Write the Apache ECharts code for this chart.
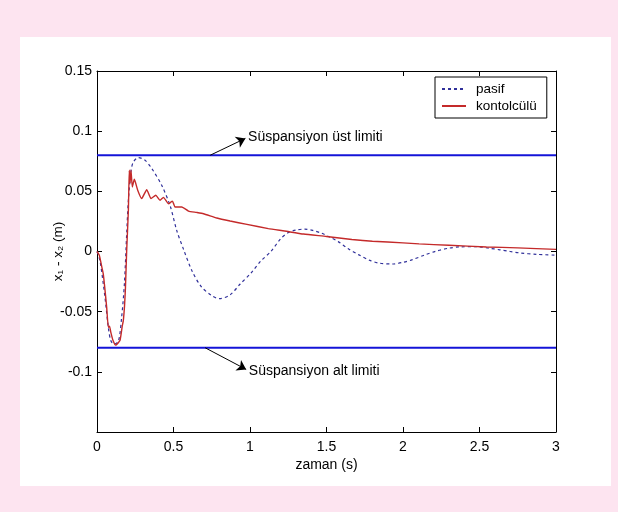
<!DOCTYPE html>
<html>
<head>
<meta charset="utf-8">
<script src="https://cdn.jsdelivr.net/npm/echarts@6/dist/echarts.min.js"></script>
<style>
html,body{margin:0;padding:0;background:#fde4f0;}
#frame{position:absolute;left:20px;top:37px;width:591px;height:449px;background:#ffffff;}
#c{position:absolute;left:0;top:0;width:618px;height:512px;}
</style>
</head>
<body>
<div id="frame"></div>
<div id="c"></div>
<script>
// time (s) and x1 - x2 (m) for the passive suspension
const pasifT = [0,0.02,0.052,0.074,0.09,0.11,0.14,0.161,0.179,0.194,0.205,0.223,0.238,0.27,0.314,0.358,0.423,0.478,0.521,0.565,0.62,0.68,0.75,0.80,0.87,0.936,1.006,1.07,1.138,1.20,1.248,1.30,1.358,1.41,1.468,1.52,1.577,1.64,1.709,1.78,1.841,1.93,2.0,2.061,2.14,2.215,2.30,2.369,2.478,2.56,2.632,2.70,2.764,2.874,3.0];
const pasifV = [0,-0.008,-0.038,-0.063,-0.074,-0.077,-0.0745,-0.0547,-0.027,0.0147,0.0425,0.0675,0.0744,0.078,0.0758,0.069,0.055,0.038,0.0175,0.002,-0.0158,-0.029,-0.0367,-0.0392,-0.036,-0.027,-0.018,-0.008,0.0003,0.0105,0.0156,0.0178,0.0186,0.0175,0.0152,0.012,0.0082,0.0025,-0.0026,-0.0072,-0.0096,-0.0104,-0.009,-0.0068,-0.003,0.0003,0.0028,0.0038,0.0040,0.0028,0.0014,0.0,-0.0012,-0.0024,-0.003];
// time (s) and x1 - x2 (m) for the controlled suspension
const kontT = [0,0.015,0.03,0.041,0.063,0.074,0.082,0.09,0.105,0.122,0.15,0.165,0.172,0.18,0.186,0.194,0.205,0.211,0.216,0.222,0.231,0.244,0.266,0.292,0.325,0.353,0.384,0.412,0.434,0.467,0.493,0.51,0.554,0.598,0.65,0.696,0.783,0.87,0.98,1.12,1.226,1.35,1.5,1.666,1.8,2.0,2.105,2.3,2.545,2.75,3.0];
const kontV = [0,-0.003,-0.012,-0.0186,-0.046,-0.063,-0.062,-0.067,-0.074,-0.0778,-0.074,-0.062,-0.0575,-0.045,-0.03,0.0008,0.034,0.0675,0.057,0.0675,0.0536,0.060,0.051,0.044,0.0514,0.044,0.0467,0.0425,0.045,0.0397,0.0419,0.037,0.037,0.0336,0.0325,0.0314,0.0278,0.0253,0.0225,0.019,0.017,0.0145,0.0125,0.010,0.0085,0.0072,0.0063,0.0052,0.0038,0.003,0.0018];
// suspension limits
const limitT = [0, 3];
const ustLimit = [0.08, 0.08];
const altLimit = [-0.08, -0.08];
// annotation arrows: [tail t, tail v, head t, head v]
const ustArrow = [0.74, 0.08, 0.97, 0.094];
const altArrow = [0.707, -0.08, 0.975, -0.098];
const ustText = 'Süspansiyon üst limiti';
const altText = 'Süspansiyon alt limiti';
// axes
const xTicks = [0, 0.5, 1, 1.5, 2, 2.5, 3];
const yTicks = [-0.15, -0.1, -0.05, 0, 0.05, 0.1, 0.15];
const seriesNames = ['pasif', 'kontolcülü'];

const zip = (a, b) => a.map((v, i) => [v, b[i]]);
const FONT = '"Liberation Sans", Arial, sans-serif';

const chart = echarts.init(document.getElementById('c'), null, {renderer: 'canvas'});

const axisBase = {
  axisLine: {show: true, onZero: false, lineStyle: {color: '#000', width: 1}},
  axisTick: {show: true, inside: true, length: 5, lineStyle: {color: '#000'}},
  splitLine: {show: false}
};

function arrowLine(a, text) {
  return {
    symbol: ['none', 'arrow'],
    symbolSize: 9,
    silent: true,
    lineStyle: {color: '#000', width: 1, type: 'solid'},
    itemStyle: {color: '#000'},
    label: {show: true, position: 'end', distance: 3, formatter: text, color: '#000', fontSize: 14, fontFamily: FONT},
    data: [[{coord: [a[0], a[1]]}, {coord: [a[2], a[3]]}]]
  };
}

chart.setOption({
  backgroundColor: 'transparent',
  animation: false,
  grid: {left: 97, right: 62, top: 71, bottom: 80},
  legend: {
    data: seriesNames,
    left: 435, top: 77,
    orient: 'vertical',
    itemWidth: 24, itemHeight: 12, itemGap: 3,
    padding: [5, 10, 5, 6],
    borderColor: '#000', borderWidth: 1, borderRadius: 0,
    backgroundColor: '#fff',
    itemStyle: {color: 'rgba(0,0,0,0)', borderColor: 'rgba(0,0,0,0)', borderWidth: 0, opacity: 0},
    textStyle: {color: '#000', fontSize: 13.5, fontFamily: FONT, padding: [0, 0, 0, 5]}
  },
  xAxis: [
    Object.assign({}, axisBase, {
      type: 'value', min: 0, max: 3, interval: 0.5, position: 'bottom',
      name: 'zaman (s)', nameLocation: 'middle', nameGap: 26, nameMoveOverlap: false,
      nameTextStyle: {color: '#000', fontSize: 14, fontFamily: FONT},
      axisLabel: {color: '#000', fontSize: 14, fontFamily: FONT, margin: 8,
        formatter: v => xTicks.includes(v) ? String(v) : ''}
    }),
    Object.assign({}, axisBase, {
      type: 'value', min: 0, max: 3, interval: 0.5, position: 'top',
      axisLabel: {show: false}
    })
  ],
  yAxis: [
    Object.assign({}, axisBase, {
      type: 'value', min: -0.15, max: 0.15, interval: 0.05, position: 'left',
      name: 'x₁ - x₂ (m)', nameLocation: 'middle', nameGap: 32, nameRotate: 90, nameMoveOverlap: false,
      nameTextStyle: {color: '#000', fontSize: 13.5, fontFamily: FONT},
      axisLabel: {color: '#000', fontSize: 14, fontFamily: FONT, margin: 5, showMinLabel: false,
        formatter: v => { const r = Math.round(v * 100) / 100; return yTicks.some(t => Math.abs(t - r) < 1e-9) ? String(r) : ''; }}
    }),
    Object.assign({}, axisBase, {
      type: 'value', min: -0.15, max: 0.15, interval: 0.05, position: 'right',
      axisLabel: {show: false}
    })
  ],
  series: [
    {
      name: 'üst limit', type: 'line', data: zip(limitT, ustLimit), symbol: 'none',
      lineStyle: {color: '#1414d8', width: 2.2}, silent: true, z: 2,
      markLine: arrowLine(ustArrow, ustText)
    },
    {
      name: 'alt limit', type: 'line', data: zip(limitT, altLimit), symbol: 'none',
      lineStyle: {color: '#1414d8', width: 2.2}, silent: true, z: 2,
      markLine: arrowLine(altArrow, altText)
    },
    {
      name: seriesNames[0], type: 'line', data: zip(pasifT, pasifV), symbol: 'none', smooth: 0.3,
      lineStyle: {color: '#30309a', width: 1.2, type: [3, 3]}, itemStyle: {color: '#30309a'}, z: 3
    },
    {
      name: seriesNames[1], type: 'line', data: zip(kontT, kontV), symbol: 'none', smooth: 0.15,
      lineStyle: {color: '#c42a2a', width: 1.4}, itemStyle: {color: '#c42a2a'}, z: 4
    }
  ]
});
</script>
</body>
</html>
